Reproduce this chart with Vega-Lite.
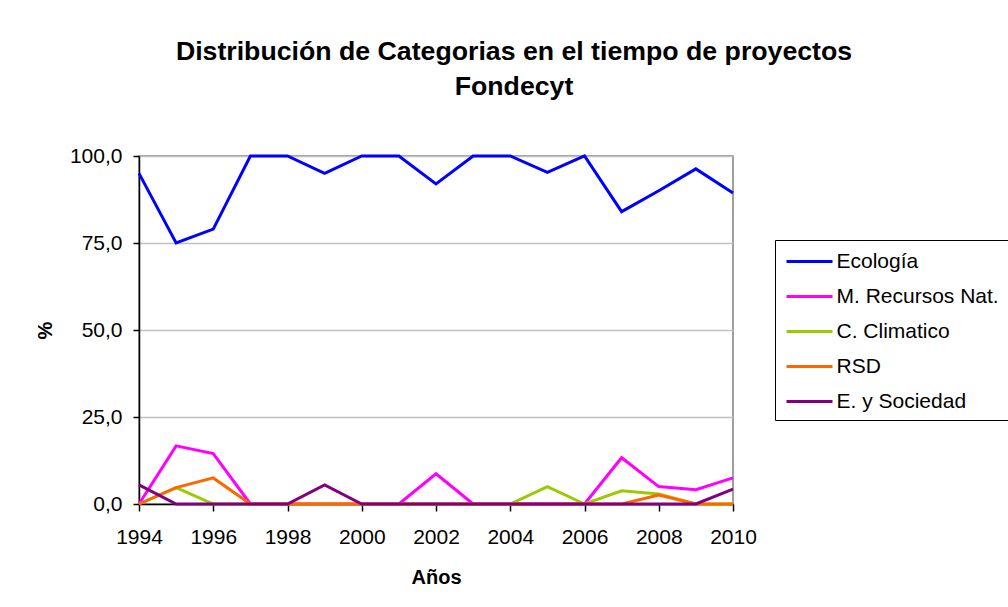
{
  "$schema": "https://vega.github.io/schema/vega-lite/v6.json",
  "autosize": {"type": "none"},
  "width": 594,
  "height": 348,
  "padding": {"left": 139, "top": 156, "right": 275, "bottom": 103},
  "background": "white",
  "config": {
    "font": "Liberation Sans",
    "view": {"stroke": "#808080", "strokeWidth": 1.5}
  },
  "title": {
    "text": ["Distribución de Categorias en el tiempo de proyectos", "Fondecyt"],
    "font": "Liberation Sans",
    "fontSize": 26.7,
    "fontWeight": "bold",
    "color": "black",
    "anchor": "middle",
    "frame": "group",
    "dx": 78,
    "offset": 44,
    "lineHeight": 35
  },
  "data": {
    "values": [
      {"year": 1994, "cat": "Ecología", "v": 95},
      {"year": 1995, "cat": "Ecología", "v": 75},
      {"year": 1996, "cat": "Ecología", "v": 79},
      {"year": 1997, "cat": "Ecología", "v": 100},
      {"year": 1998, "cat": "Ecología", "v": 100},
      {"year": 1999, "cat": "Ecología", "v": 95},
      {"year": 2000, "cat": "Ecología", "v": 100},
      {"year": 2001, "cat": "Ecología", "v": 100},
      {"year": 2002, "cat": "Ecología", "v": 92},
      {"year": 2003, "cat": "Ecología", "v": 100},
      {"year": 2004, "cat": "Ecología", "v": 100},
      {"year": 2005, "cat": "Ecología", "v": 95.3},
      {"year": 2006, "cat": "Ecología", "v": 100},
      {"year": 2007, "cat": "Ecología", "v": 84},
      {"year": 2008, "cat": "Ecología", "v": 90},
      {"year": 2009, "cat": "Ecología", "v": 96.3},
      {"year": 2010, "cat": "Ecología", "v": 89.4},
      {"year": 1994, "cat": "M. Recursos Nat.", "v": 0},
      {"year": 1995, "cat": "M. Recursos Nat.", "v": 16.7},
      {"year": 1996, "cat": "M. Recursos Nat.", "v": 14.5},
      {"year": 1997, "cat": "M. Recursos Nat.", "v": 0},
      {"year": 1998, "cat": "M. Recursos Nat.", "v": 0},
      {"year": 1999, "cat": "M. Recursos Nat.", "v": 0},
      {"year": 2000, "cat": "M. Recursos Nat.", "v": 0},
      {"year": 2001, "cat": "M. Recursos Nat.", "v": 0},
      {"year": 2002, "cat": "M. Recursos Nat.", "v": 8.7},
      {"year": 2003, "cat": "M. Recursos Nat.", "v": 0},
      {"year": 2004, "cat": "M. Recursos Nat.", "v": 0},
      {"year": 2005, "cat": "M. Recursos Nat.", "v": 0},
      {"year": 2006, "cat": "M. Recursos Nat.", "v": 0},
      {"year": 2007, "cat": "M. Recursos Nat.", "v": 13.3},
      {"year": 2008, "cat": "M. Recursos Nat.", "v": 5.0},
      {"year": 2009, "cat": "M. Recursos Nat.", "v": 4.1},
      {"year": 2010, "cat": "M. Recursos Nat.", "v": 7.5},
      {"year": 1994, "cat": "C. Climatico", "v": 0},
      {"year": 1995, "cat": "C. Climatico", "v": 4.7},
      {"year": 1996, "cat": "C. Climatico", "v": 0},
      {"year": 1997, "cat": "C. Climatico", "v": 0},
      {"year": 1998, "cat": "C. Climatico", "v": 0},
      {"year": 1999, "cat": "C. Climatico", "v": 0},
      {"year": 2000, "cat": "C. Climatico", "v": 0},
      {"year": 2001, "cat": "C. Climatico", "v": 0},
      {"year": 2002, "cat": "C. Climatico", "v": 0},
      {"year": 2003, "cat": "C. Climatico", "v": 0},
      {"year": 2004, "cat": "C. Climatico", "v": 0},
      {"year": 2005, "cat": "C. Climatico", "v": 5.0},
      {"year": 2006, "cat": "C. Climatico", "v": 0},
      {"year": 2007, "cat": "C. Climatico", "v": 3.8},
      {"year": 2008, "cat": "C. Climatico", "v": 2.9},
      {"year": 2009, "cat": "C. Climatico", "v": 0},
      {"year": 2010, "cat": "C. Climatico", "v": 0},
      {"year": 1994, "cat": "RSD", "v": 0},
      {"year": 1995, "cat": "RSD", "v": 4.7},
      {"year": 1996, "cat": "RSD", "v": 7.5},
      {"year": 1997, "cat": "RSD", "v": 0},
      {"year": 1998, "cat": "RSD", "v": 0},
      {"year": 1999, "cat": "RSD", "v": 0},
      {"year": 2000, "cat": "RSD", "v": 0},
      {"year": 2001, "cat": "RSD", "v": 0},
      {"year": 2002, "cat": "RSD", "v": 0},
      {"year": 2003, "cat": "RSD", "v": 0},
      {"year": 2004, "cat": "RSD", "v": 0},
      {"year": 2005, "cat": "RSD", "v": 0},
      {"year": 2006, "cat": "RSD", "v": 0},
      {"year": 2007, "cat": "RSD", "v": 0},
      {"year": 2008, "cat": "RSD", "v": 2.6},
      {"year": 2009, "cat": "RSD", "v": 0},
      {"year": 2010, "cat": "RSD", "v": 0},
      {"year": 1994, "cat": "E. y Sociedad", "v": 5.5},
      {"year": 1995, "cat": "E. y Sociedad", "v": 0},
      {"year": 1996, "cat": "E. y Sociedad", "v": 0},
      {"year": 1997, "cat": "E. y Sociedad", "v": 0},
      {"year": 1998, "cat": "E. y Sociedad", "v": 0},
      {"year": 1999, "cat": "E. y Sociedad", "v": 5.5},
      {"year": 2000, "cat": "E. y Sociedad", "v": 0},
      {"year": 2001, "cat": "E. y Sociedad", "v": 0},
      {"year": 2002, "cat": "E. y Sociedad", "v": 0},
      {"year": 2003, "cat": "E. y Sociedad", "v": 0},
      {"year": 2004, "cat": "E. y Sociedad", "v": 0},
      {"year": 2005, "cat": "E. y Sociedad", "v": 0},
      {"year": 2006, "cat": "E. y Sociedad", "v": 0},
      {"year": 2007, "cat": "E. y Sociedad", "v": 0},
      {"year": 2008, "cat": "E. y Sociedad", "v": 0},
      {"year": 2009, "cat": "E. y Sociedad", "v": 0},
      {"year": 2010, "cat": "E. y Sociedad", "v": 4.3}
    ]
  },
  "mark": {"type": "line", "strokeWidth": 3, "strokeJoin": "miter", "clip": false},
  "encoding": {
    "x": {
      "field": "year",
      "type": "quantitative",
      "scale": {"domain": [1994, 2010], "nice": false, "zero": false},
      "axis": {
        "values": [1994, 1996, 1998, 2000, 2002, 2004, 2006, 2008, 2010],
        "format": "d",
        "grid": false,
        "domainColor": "black",
        "domainWidth": 1.5,
        "tickColor": "black",
        "tickWidth": 1.5,
        "tickSize": 7,
        "labelFont": "Liberation Sans",
        "labelFontSize": 21,
        "labelColor": "black",
        "labelPadding": 15,
        "labelFlush": false,
        "title": "Años",
        "titleFont": "Liberation Sans",
        "titleFontSize": 20,
        "titleFontWeight": "bold",
        "titleColor": "black",
        "titlePadding": 20
      }
    },
    "y": {
      "field": "v",
      "type": "quantitative",
      "scale": {"domain": [0, 100], "nice": false},
      "axis": {
        "values": [0, 25, 50, 75, 100],
        "labelExpr": "replace(format(datum.value, '.1f'), '.', ',')",
        "grid": true,
        "gridColor": "#c0c0c0",
        "gridWidth": 1.5,
        "domainColor": "black",
        "domainWidth": 1.5,
        "tickColor": "black",
        "tickWidth": 1.5,
        "tickSize": 6,
        "labelFont": "Liberation Sans",
        "labelFontSize": 21,
        "labelColor": "black",
        "labelPadding": 11,
        "labelFlush": false,
        "title": "%",
        "titleFont": "Liberation Sans",
        "titleFontSize": 20,
        "titleFontWeight": "bold",
        "titleColor": "black",
        "titlePadding": 14
      }
    },
    "color": {
      "field": "cat",
      "type": "nominal",
      "scale": {
        "domain": ["Ecología", "M. Recursos Nat.", "C. Climatico", "RSD", "E. y Sociedad"],
        "range": ["#0000FF", "#FF00FF", "#99CC00", "#FF6600", "#800080"]
      },
      "legend": {
        "title": null,
        "orient": "none",
        "legendX": 636,
        "legendY": 84,
        "strokeColor": "black",
        "padding": 8.5,
        "symbolType": "M-2,0H2",
        "symbolSize": 529,
        "symbolStrokeWidth": 3,
        "symbolOffset": 13,
        "labelOffset": 14,
        "labelLimit": 0,
        "labelFont": "Liberation Sans",
        "labelFontSize": 21,
        "labelColor": "black",
        "rowPadding": 12
      }
    }
  }
}
